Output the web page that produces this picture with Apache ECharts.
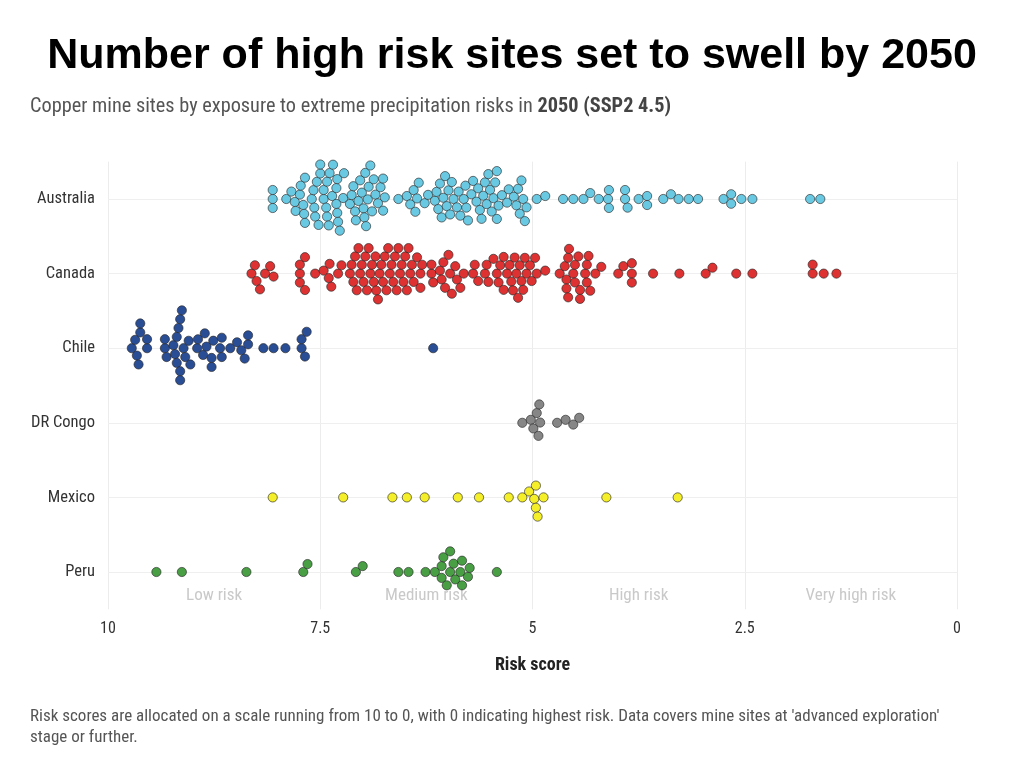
<!DOCTYPE html>
<html>
<head>
<meta charset="utf-8">
<script src="https://cdn.jsdelivr.net/npm/echarts@6/dist/echarts.min.js"></script>
<style>
  html, body { margin: 0; padding: 0; background: #fff; }
  #chart { width: 1024px; height: 763px; }
</style>
</head>
<body>
<div id="chart"></div>
<script>
// ---------- data ----------
const countries = ['Australia', 'Canada', 'Chile', 'DR Congo', 'Mexico', 'Peru'];

const australia = [8.06,8.06,8.06,7.90,7.84,7.80,7.79,7.74,7.73,7.70,7.69,7.68,7.68,7.60,7.58,7.57,7.56,7.54,7.52,7.50,7.50,7.46,7.46,7.43,7.42,7.42,7.40,7.39,7.36,7.35,7.31,7.31,7.30,7.30,7.29,7.27,7.23,7.22,7.15,7.13,7.11,7.09,7.08,7.05,7.03,7.01,6.99,6.98,6.97,6.96,6.94,6.93,6.91,6.89,6.87,6.85,6.82,6.79,6.76,6.76,6.74,
  6.58,6.48,6.44,6.40,6.38,6.36,6.34,6.27,6.23,6.15,6.13,6.11,6.09,6.07,6.05,6.03,6.01,5.99,5.97,5.95,5.93,5.89,5.87,5.85,5.81,5.79,5.78,5.76,5.72,5.70,5.66,5.64,5.62,5.60,5.58,5.56,5.54,5.52,5.50,5.48,5.46,5.44,5.42,5.40,5.42,5.36,5.30,5.28,5.22,5.19,5.17,5.15,5.13,5.11,5.09,5.07,4.95,4.85,
  4.64,4.52,4.40,4.32,4.22,4.11,4.10,4.10,3.91,3.91,3.88,3.75,3.65,3.65,3.46,3.37,3.28,3.16,3.05,2.75,2.66,2.66,2.54,2.41,1.73,1.61];

const canada = [8.31,8.27,8.25,8.21,8.15,8.09,8.05,7.74,7.74,7.74,7.68,7.68,7.56,7.46,7.40,7.39,7.37,7.29,7.25,
  7.15,7.13,7.11,7.09,7.07,7.05,7.03,7.01,6.99,6.97,6.95,6.93,6.91,6.89,6.87,6.85,6.84,6.82,6.80,6.78,6.76,6.74,6.72,6.70,6.68,6.66,6.64,6.62,6.60,6.58,6.56,6.54,6.52,6.50,6.48,6.46,6.44,6.42,6.40,6.36,6.32,6.32,6.30,
  6.19,6.19,6.17,6.09,6.07,6.05,6.03,5.99,5.97,5.95,5.91,5.89,5.85,5.81,
  5.70,5.68,5.64,5.56,5.54,5.52,5.46,5.42,5.40,5.38,5.34,5.34,5.30,5.27,5.25,5.23,5.21,5.19,5.17,5.15,5.13,5.11,5.09,5.07,5.03,5.01,4.97,4.95,
  4.85,4.68,4.62,4.60,4.60,4.58,4.58,4.57,4.52,4.50,4.50,4.46,4.44,4.44,4.38,4.36,4.36,4.34,4.32,4.26,4.19,3.99,3.93,3.83,3.83,3.83,3.58,3.27,2.96,2.88,2.60,2.41,1.70,1.70,1.57,1.42];

const chile = [9.72,9.68,9.66,9.64,9.62,9.62,9.54,9.54,
  9.33,9.33,9.31,9.23,9.21,9.19,9.19,9.17,9.15,9.15,9.15,9.13,9.11,9.09,9.05,9.03,
  8.95,8.94,8.88,8.86,8.84,8.78,8.78,8.76,8.68,8.66,8.66,8.56,8.48,8.43,8.39,8.35,8.35,
  8.17,8.05,7.91,7.72,7.72,7.68,7.66,6.17];

const drCongo = [5.12,5.02,4.99,4.95,4.93,4.92,4.91,4.71,4.61,4.52,4.45];

const mexico = [8.06,7.23,6.65,6.48,6.27,5.88,5.63,5.28,5.12,5.04,4.98,4.96,4.96,4.94,4.87,4.13,3.29];

const peru = [9.43,9.13,8.37,7.70,7.65,7.08,7.00,6.58,6.46,6.26,6.15,6.07,6.07,6.05,6.01,5.97,5.97,5.93,5.91,5.85,5.83,5.83,5.76,5.74,5.42];

const seriesValues = [australia, canada, chile, drCongo, mexico, peru];
const seriesColors = ['#62c6e0', '#dc2626', '#1f4590', '#808080', '#f4ee1e', '#3e9a3a'];

const xTickLabels = ['10', '7.5', '5', '2.5', '0'];
const zoneLabels = ['Low risk', 'Medium risk', 'High risk', 'Very high risk'];
const zoneCentres = [8.75, 6.25, 3.75, 1.25];

// ---------- swarm layout (computed in pixel space from the axis scale) ----------
const R = 5;        // marker radius (px)
const D = 9;        // minimum distance between centres (slight overlap allowed)

function swarm(xs) {
  const order = xs.map((x, i) => i).sort((a, b) => xs[a] - xs[b]);
  const placed = [];
  const ys = new Array(xs.length).fill(0);
  order.forEach(i => {
    const x = xs[i];
    const forb = [];
    placed.forEach(p => {
      const dx = Math.abs(p.x - x);
      if (dx < D) {
        const h = Math.sqrt(D * D - dx * dx);
        forb.push([p.y - h, p.y + h]);
      }
    });
    const cands = [0];
    forb.forEach(f => { cands.push(f[0], f[1]); });
    cands.sort((a, b) => Math.abs(a) - Math.abs(b) || a - b);
    let y = 0;
    for (const c of cands) {
      let ok = true;
      for (const f of forb) {
        if (c > f[0] + 1e-6 && c < f[1] - 1e-6) { ok = false; break; }
      }
      if (ok) { y = c; break; }
    }
    ys[i] = y;
    placed.push({ x: x, y: y });
  });
  return ys;
}

function makeRender(values, catIdx, color) {
  let offsets = null;
  return function (params, api) {
    if (params.dataIndexInside === 0 || !offsets) {
      const xs = values.map(v => api.coord([v, catIdx])[0]);
      offsets = swarm(xs);
    }
    const p = api.coord([api.value(0), api.value(1)]);
    return {
      type: 'circle',
      shape: { cx: p[0], cy: p[1] + offsets[params.dataIndexInside], r: R - 0.4 },
      style: { fill: color, stroke: 'rgba(40,40,40,0.85)', lineWidth: 0.8, opacity: 0.95 }
    };
  };
}

const condensed = "'Roboto Condensed', 'Liberation Sans Narrow', 'Arial Narrow', Roboto, sans-serif";

const series = seriesValues.map((vals, k) => ({
  type: 'custom',
  name: countries[k],
  z: 5,
  renderItem: makeRender(vals, k, seriesColors[k]),
  encode: { x: 0, y: 1 },
  data: vals.map(v => [v, k]),
  silent: true
}));

// faint row lines at the category centres
series[0].markLine = {
  silent: true,
  symbol: 'none',
  z: 1,
  label: { show: false },
  lineStyle: { color: '#efefef', width: 1, type: 'solid' },
  data: countries.map(c => ({ yAxis: c }))
};

// zone labels under the last row
series.unshift({
  type: 'custom',
  name: 'zones',
  z: 2,
  silent: true,
  encode: { x: 0, y: 1 },
  data: zoneCentres.map((c, i) => [c, countries.length - 1, i]),
  renderItem: function (params, api) {
    const p = api.coord([api.value(0), api.value(1)]);
    return {
      type: 'text',
      x: p[0], y: p[1] + 24,
      style: {
        text: zoneLabels[api.value(2)],
        fill: '#c9c9c9', fontSize: 17, fontFamily: condensed,
        align: 'center', verticalAlign: 'middle'
      }
    };
  }
});

const chart = echarts.init(document.getElementById('chart'), null, { renderer: 'canvas' });
chart.setOption({
  backgroundColor: '#ffffff',
  animation: false,
  title: [
    {
      text: 'Number of high risk sites set to swell by 2050',
      left: 'center', top: 30,
      textStyle: { fontFamily: "'Liberation Sans', Arial, sans-serif", fontWeight: 'bold', fontSize: 43, color: '#000' }
    },
    {
      text: '{a|Copper mine sites by exposure to extreme precipitation risks in }{b|2050 (SSP2 4.5)}',
      left: 25, top: 92,
      textStyle: {
        fontWeight: 'normal',
        rich: {
          a: { fontFamily: condensed, fontSize: 20.3, color: '#555', fontWeight: 'normal' },
          b: { fontFamily: condensed, fontSize: 20.3, color: '#444', fontWeight: 'bold' }
        }
      }
    },
    {
      text: "Risk scores are allocated on a scale running from 10 to 0, with 0 indicating highest risk. Data covers mine sites at 'advanced exploration'\nstage or further.",
      left: 25, top: 701,
      textStyle: { fontFamily: condensed, fontSize: 17, lineHeight: 21, color: '#555', fontWeight: 'normal' }
    }
  ],
  grid: { left: 108, right: 67, top: 161.7, bottom: 153.7, containLabel: false },
  xAxis: {
    type: 'value',
    inverse: true,
    min: 0, max: 10, interval: 2.5,
    axisLine: { show: false },
    axisTick: { show: false },
    splitLine: { show: true, lineStyle: { color: '#ececec', width: 1 } },
    axisLabel: {
      fontFamily: condensed, fontSize: 16, color: '#333', margin: 12,
      formatter: function (v) { const i = [10, 7.5, 5, 2.5, 0].indexOf(v); return i >= 0 ? xTickLabels[i] : ''; }
    },
    name: 'Risk score',
    nameLocation: 'middle',
    nameGap: 47,
    nameTextStyle: { fontFamily: condensed, fontSize: 18, fontWeight: 'bold', color: '#222' }
  },
  yAxis: {
    type: 'category',
    inverse: true,
    data: countries,
    axisLine: { show: false },
    axisTick: { show: false },
    splitLine: { show: false },
    axisLabel: { fontFamily: condensed, fontSize: 16.5, color: '#333', margin: 13 }
  },
  series: series
});
</script>
</body>
</html>
